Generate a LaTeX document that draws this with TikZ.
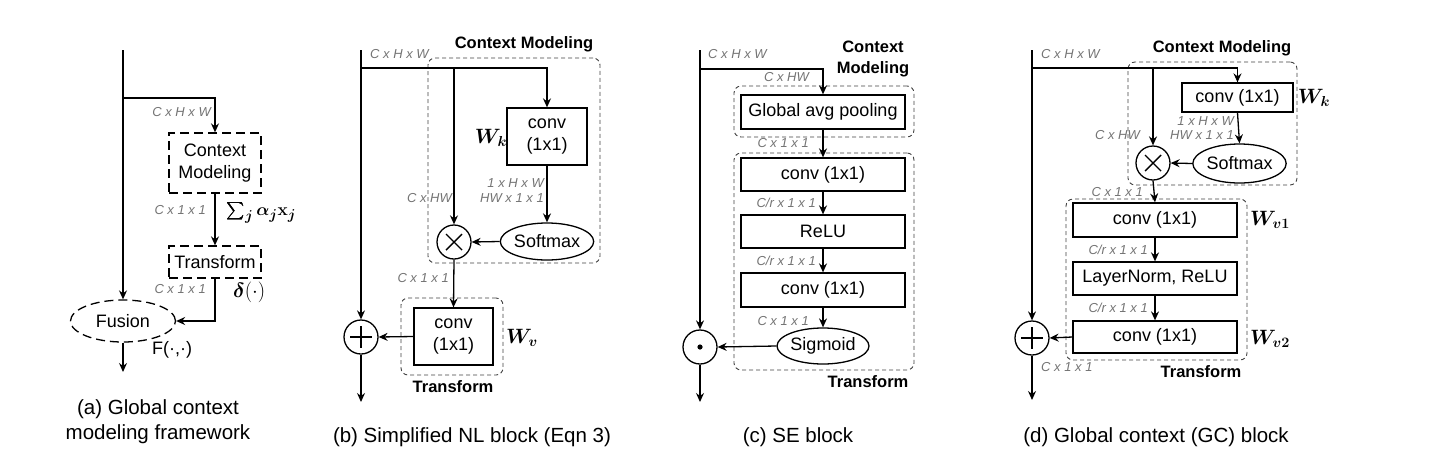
\documentclass[tikz,border=0pt]{standalone}
\usepackage{fontspec}
\setmainfont{Liberation Sans}
\usepackage{amsmath,bm}
\usetikzlibrary{arrows.meta,shapes.geometric}
\tikzset{
  box/.style={draw,line width=1.3pt,inner sep=0pt,align=center,font=\fontsize{18}{22}\selectfont},
  dbox/.style={box,dash pattern=on 9pt off 5pt},
  region/.style={draw,black!75,line width=0.9pt,dash pattern=on 4pt off 3pt,rounded corners=7pt,inner sep=0pt},
  oval/.style={box,ellipse},
  opc/.style={draw,circle,line width=1.3pt,minimum size=34pt,inner sep=0pt},
  otimes/.style={opc,path picture={\draw[line width=1.4pt] ([shift={(-8,-8)}]path picture bounding box.center) -- ++(16,16) ([shift={(-8,8)}]path picture bounding box.center) -- ++(16,-16);}},
  oplus/.style={opc,path picture={\draw[line width=1.4pt] ([shift={(-11,0)}]path picture bounding box.center) -- ++(22,0) ([shift={(0,-11)}]path picture bounding box.center) -- ++(0,22);}},
  odot/.style={opc,path picture={\fill (path picture bounding box.center) circle (2.6);}},
  arr/.style={line width=1.3pt,-{Stealth[length=9pt,width=8pt,inset=3pt]}},
  lbl/.style={font=\fontsize{13}{14}\selectfont\itshape,text=black!55,inner sep=0pt},
  blbl/.style={font=\fontsize{16.5}{21}\selectfont\bfseries,align=center,inner sep=0pt},
  mlbl/.style={font=\fontsize{20}{24}\selectfont,inner sep=0pt},
  captxt/.style={font=\fontsize{20.5}{25}\selectfont,align=center,inner sep=0pt}
}
\begin{document}
\begin{tikzpicture}[x=1pt,y=-1pt]
\useasboundingbox (0,0) rectangle (1438,467);
% ---------------- (a)
\coordinate (a0) at (123,50);
\coordinate (as) at (123,98);
\coordinate (aout) at (123,372);
\node[dbox,minimum width=92pt,minimum height=60pt] (acm) at (215,163) {Context\\Modeling};
\node[dbox,minimum width=92pt,minimum height=32pt] (atr) at (215,262) {Transform};
\node[dbox,ellipse,minimum width=105pt,minimum height=42pt] (afu) at (123,321) {Fusion};
\draw[arr] (a0) -- (afu.north);
\draw[arr] (as) -| (acm.north);
\draw[arr] (acm.south) -- (atr.north);
\draw[arr] (atr.south) |- (afu.east);
\draw[arr] (afu.south) -- (aout);
\node[lbl,anchor=east] (al1) at (211,112) {C x H x W};
\node[lbl,anchor=east] (al2) at (206,210) {C x 1 x 1};
\node[lbl,anchor=east] (al3) at (206,289) {C x 1 x 1};
\node[font=\fontsize{19}{22}\selectfont,inner sep=0pt,anchor=west] (asum) at (226,213) {$\bm{\textstyle\sum_j \alpha_j \mathbf{x}_j}$};
\node[mlbl,anchor=west] (adel) at (233,292) {$\bm{\delta}(\cdot)$};
\node[font=\fontsize{18}{22}\selectfont,anchor=west,inner sep=0pt] (aF) at (152,350) {F(·,·)};
\node[captxt] (acap) at (158,422) {(a) Global context\\modeling framework};
% ---------------- (b)
\coordinate (b0) at (361,50);
\coordinate (bs) at (361,68);
\coordinate (bs2) at (454,68);
\coordinate (bout) at (361,402);
\node[region,minimum width=172pt,minimum height=205pt] (bcm) at (514,160.5) {};
\node[region,minimum width=102pt,minimum height=77pt] (btrr) at (452,336.5) {};
\node[blbl] (bcml) at (524,44) {Context Modeling};
\node[blbl] (btrl) at (453,387) {Transform};
\node[box,minimum width=80pt,minimum height=57pt] (bk) at (547,136.5) {conv\\(1x1)};
\node[otimes] (bx) at (454,242) {};
\node[oval,minimum width=84pt,minimum height=37pt] (bsm) at (547,241.5) {Softmax};
\node[box,minimum width=79pt,minimum height=57pt] (bv) at (453.5,336.5) {conv\\(1x1)};
\node[oplus] (bp) at (361,337) {};
\draw[arr] (b0) -- (bp.north);
\draw[arr] (bs) -| (bk.north);
\draw[arr] (bs2) -- (bx.north);
\draw[arr] (bk.south) -- (bsm.north);
\draw[arr] (bsm.west) -- (bx.east);
\draw[arr] (bx.south) -- (bv.north);
\draw[arr] (bv.west) -- (bp.east);
\draw[arr] (bp.south) -- (bout);
\node[lbl,anchor=west] (bl1) at (370,54) {C x H x W};
\node[lbl,anchor=east] (bl2) at (544,183) {1 x H x W};
\node[lbl,anchor=east] (bl3) at (544,198) {HW x 1 x 1};
\node[lbl,anchor=east] (bl4) at (452,198) {C x HW};
\node[lbl,anchor=east] (bl5) at (449,278) {C x 1 x 1};
\node[mlbl] (bwk) at (491,138) {$\bm{W_k}$};
\node[mlbl] (bwv) at (522,338) {$\bm{W_v}$};
\node[captxt] (bcap) at (472,437) {(b) Simplified NL block (Eqn 3)};
% ---------------- (c)
\coordinate (c0) at (700,50);
\coordinate (cs) at (700,69);
\coordinate (cout) at (700,402);
\node[region,minimum width=180pt,minimum height=51pt] (ccm) at (824,111.5) {};
\node[region,minimum width=180pt,minimum height=217pt] (ctrr) at (824,261.5) {};
\node[blbl] (ccml) at (873,58.5) {Context\\Modeling};
\node[blbl] (ctrl) at (868,382) {Transform};
\node[box,minimum width=164pt,minimum height=34pt] (cg) at (823,112) {Global avg pooling};
\node[box,minimum width=164pt,minimum height=33pt] (cc1) at (823,174.5) {conv (1x1)};
\node[box,minimum width=164pt,minimum height=33pt] (cr) at (823,231.5) {ReLU};
\node[box,minimum width=164pt,minimum height=34pt] (cc2) at (823,290) {conv (1x1)};
\node[oval,minimum width=84pt,minimum height=36pt] (csg) at (823,346) {Sigmoid};
\node[odot] (cd) at (700,347) {};
\draw[arr] (c0) -- (cd.north);
\draw[arr] (cs) -| (cg.north);
\draw[arr] (cg.south) -- (cc1.north);
\draw[arr] (cc1.south) -- (cr.north);
\draw[arr] (cr.south) -- (cc2.north);
\draw[arr] (cc2.south) -- (csg.north);
\draw[arr] (csg.west) -- (cd.east);
\draw[arr] (cd.south) -- (cout);
\node[lbl,anchor=west] (cl1) at (708,54) {C x H x W};
\node[lbl,anchor=east] (cl2) at (809,77) {C x HW};
\node[lbl,anchor=east] (cl3) at (809,143) {C x 1 x 1};
\node[lbl,anchor=east] (cl4) at (816,203) {C/r x 1 x 1};
\node[lbl,anchor=east] (cl5) at (816,261) {C/r x 1 x 1};
\node[lbl,anchor=east] (cl6) at (809,321) {C x 1 x 1};
\node[captxt] (ccap) at (798,437) {(c) SE block};
% ---------------- (d)
\coordinate (d0) at (1032,50);
\coordinate (ds) at (1032,68);
\coordinate (ds2) at (1153,68);
\coordinate (dout) at (1032,400);
\node[region,minimum width=169pt,minimum height=123pt] (dcm) at (1212.5,123.5) {};
\node[region,minimum width=181pt,minimum height=161pt] (dtrr) at (1156.5,279.5) {};
\node[blbl] (dcml) at (1222,48) {Context Modeling};
\node[blbl] (dtrl) at (1201,372) {Transform};
\node[box,minimum width=111pt,minimum height=29pt] (dk) at (1237.5,97.5) {conv (1x1)};
\node[otimes] (dx) at (1153,163) {};
\node[oval,minimum width=85pt,minimum height=39pt] (dsm) at (1239.5,163.5) {Softmax};
\node[box,minimum width=164pt,minimum height=34pt] (dv1) at (1155,220) {conv (1x1)};
\node[box,minimum width=164pt,minimum height=33pt] (dln) at (1155,278.5) {LayerNorm, ReLU};
\node[box,minimum width=164pt,minimum height=32pt] (dv2) at (1155,337) {conv (1x1)};
\node[oplus] (dp) at (1032,338) {};
\draw[arr] (d0) -- (dp.north);
\draw[arr] (ds) -| (dk.north);
\draw[arr] (ds2) -- (dx.north);
\draw[arr] (dk.south) -- (dsm.north);
\draw[arr] (dsm.west) -- (dx.east);
\draw[arr] (dx.south) -- (dv1.north);
\draw[arr] (dv1.south) -- (dln.north);
\draw[arr] (dln.south) -- (dv2.north);
\draw[arr] (dv2.west) -- (dp.east);
\draw[arr] (dp.south) -- (dout);
\node[lbl,anchor=west] (dl1) at (1041,54) {C x H x W};
\node[lbl,anchor=east] (dl2) at (1234,121) {1 x H x W};
\node[lbl,anchor=east] (dl3) at (1234,135) {HW x 1 x 1};
\node[lbl,anchor=east] (dl4) at (1140,135) {C x HW};
\node[lbl,anchor=east] (dl5) at (1143,192) {C x 1 x 1};
\node[lbl,anchor=east] (dl6) at (1148,250) {C/r x 1 x 1};
\node[lbl,anchor=east] (dl7) at (1148,308) {C/r x 1 x 1};
\node[lbl,anchor=west] (dl8) at (1041,367) {C x 1 x 1};
\node[mlbl] (dwk) at (1314,98) {$\bm{W_k}$};
\node[mlbl] (dwv1) at (1270,220) {$\bm{W_{v1}}$};
\node[mlbl] (dwv2) at (1270,339) {$\bm{W_{v2}}$};
\node[captxt] (dcap) at (1156,437) {(d) Global context (GC) block};
\end{tikzpicture}
\end{document}
